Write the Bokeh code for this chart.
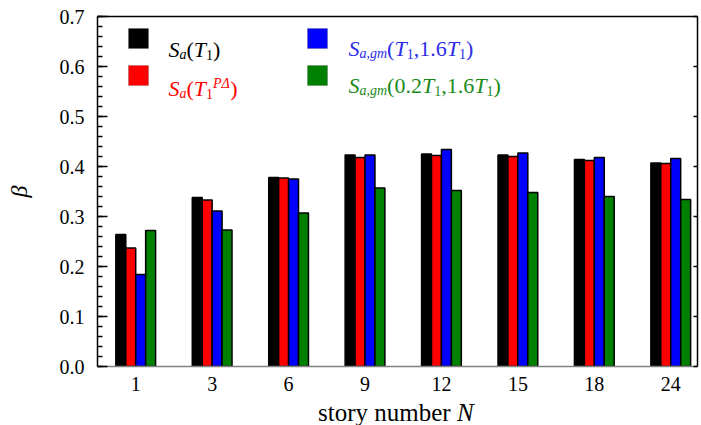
import numpy as np
from bokeh.plotting import figure
from bokeh.layouts import column
from bokeh.models import (Range1d, FixedTicker, LinearAxis, PrintfTickFormatter,
                          CustomJSTickFormatter, Label, BoxAnnotation, Div)
from bokeh.embed import file_html
from bokeh.resources import INLINE

# ---------------- data ----------------
stories = ["1", "3", "6", "9", "12", "15", "18", "24"]
sa_t1 = [0.264, 0.338, 0.378, 0.423, 0.425, 0.423, 0.414, 0.407]
sa_t1_pd = [0.237, 0.333, 0.377, 0.418, 0.422, 0.420, 0.412, 0.406]
sagm_t1_16 = [0.184, 0.311, 0.375, 0.423, 0.434, 0.427, 0.418, 0.416]
sagm_02_16 = [0.272, 0.273, 0.307, 0.357, 0.352, 0.348, 0.340, 0.334]
y_major = [0.0, 0.1, 0.2, 0.3, 0.4, 0.5, 0.6, 0.7]
y_minor = [round(0.02 * k, 2) for k in range(36)]

FONT = "Liberation Serif"
BLACK, RED, BLUE, GREEN = "#000000", "#FF0000", "#0000FF", "#008000"
TXT_BLUE = "#2B2BE8"
TXT_GREEN = "#1A8A1A"

W = 700
LB, FW, TB, FH = 97, 600, 16, 350
H1 = 400
p = figure(width=W, height=H1, x_range=Range1d(0.5, 8.35), y_range=Range1d(0, 0.7),
           output_backend="svg", toolbar_location=None,
           min_border_left=LB, min_border_right=W - LB - FW, min_border_top=TB,
           min_border_bottom=H1 - TB - FH)
p.grid.visible = False
p.outline_line_color = None
p.background_fill_color = None
p.border_fill_color = "white"

# ---------------- bars ----------------
xs = np.arange(1, len(stories) + 1)
bw = 0.13
series = [(sa_t1, BLACK, -0.195), (sa_t1_pd, RED, -0.065),
          (sagm_t1_16, BLUE, 0.065), (sagm_02_16, GREEN, 0.195)]
for vals, col, off in series:
    p.vbar(x=xs + off, top=vals, width=bw, bottom=0, fill_color=col,
           line_color="black", line_width=1.5)

# ---------------- axes ----------------
yax = p.yaxis[0]
yax.ticker = FixedTicker(ticks=y_major, minor_ticks=y_minor)
yax.formatter = PrintfTickFormatter(format="%.1f")
yax.major_tick_in = 10
yax.major_tick_out = 0
yax.minor_tick_in = 5
yax.minor_tick_out = 0
yax.axis_line_width = 1.5
yax.major_tick_line_width = 1.5
yax.minor_tick_line_width = 1.5
yax.major_label_text_font = FONT
yax.major_label_text_font_size = "20px"
yax.major_label_text_color = "black"
yax.major_label_standoff = 13
yax.axis_label = "β"
yax.axis_label_text_font = FONT
yax.axis_label_text_font_style = "italic"
yax.axis_label_text_font_size = "24px"
yax.axis_label_text_color = "black"
yax.axis_label_standoff = 25

xax = p.xaxis[0]
xax.ticker = FixedTicker(ticks=list(xs))
xax.major_label_overrides = {int(i): s for i, s in zip(xs, stories)}
xax.axis_line_color = "#808080"
xax.axis_line_width = 1.5
xax.major_tick_line_color = None
xax.minor_tick_line_color = None
xax.major_tick_in = 0
xax.major_tick_out = 0
xax.major_label_text_font = FONT
xax.major_label_text_font_size = "20px"
xax.major_label_text_color = "black"
xax.major_label_standoff = 10

rax = LinearAxis(ticker=FixedTicker(ticks=y_major),
                 formatter=CustomJSTickFormatter(code="return ''"))
rax.major_tick_in = 4
rax.major_tick_out = 0
rax.minor_tick_line_color = None
rax.axis_line_width = 1.5
rax.major_tick_line_width = 1.5
rax.major_label_standoff = 0
p.add_layout(rax, "right")

tax = LinearAxis(ticker=FixedTicker(ticks=[]),
                 formatter=CustomJSTickFormatter(code="return ''"))
tax.major_tick_line_color = None
tax.minor_tick_line_color = None
tax.axis_line_width = 1.5
tax.major_label_standoff = 0
p.add_layout(tax, "above")

# ---------------- rich text helper ----------------
REG = {"(": 333, ")": 333, ",": 250, ".": 250, " ": 250}
for d in "0123456789":
    REG[d] = 500
ITAL = {"S": 500, "a": 500, "T": 556, "g": 500, "m": 722, ",": 250, "P": 611,
        "Δ": 612}


def width(s, italic, size):
    tab = ITAL if italic else REG
    return sum(tab.get(c, 500) for c in s) / 1000.0 * size


def rich(fig, x0, y0, runs, color):
    x = x0
    for txt, italic, size, dy in runs:
        fig.add_layout(Label(x=x, y=y0 + dy, x_units="screen", y_units="screen",
                             text=txt, text_font=FONT, text_font_size=f"{size}px",
                             text_font_style="italic" if italic else "normal",
                             text_color=color, text_baseline="alphabetic",
                             text_align="left"))
        x += width(txt, italic, size)


M, S = 22, 14
SUB, SUP = -5, 5
I, R = True, False
leg1 = [("S", I, M, 0), ("a", I, S, SUB), ("(", R, M, 0), ("T", I, M, 0),
        ("1", R, S, SUB), (")", R, M, 0)]
leg2 = [("S", I, M, 0), ("a", I, S, SUB), ("(", R, M, 0), ("T", I, M, 0),
        ("1", R, S, SUB), ("PΔ", I, S, SUP), (")", R, M, 0)]
leg3 = [("S", I, M, 0), ("a,gm", I, S, SUB), ("(", R, M, 0), ("T", I, M, 0),
        ("1", R, S, SUB), (",", R, M, 0), ("1.6", R, M, 0), ("T", I, M, 0),
        ("1", R, S, SUB), (")", R, M, 0)]
leg4 = [("S", I, M, 0), ("a,gm", I, S, SUB), ("(", R, M, 0), ("0.2", R, M, 0),
        ("T", I, M, 0), ("1", R, S, SUB), (",", R, M, 0), ("1.6", R, M, 0),
        ("T", I, M, 0), ("1", R, S, SUB), (")", R, M, 0)]

# legend swatches (screen units, relative to frame, y from bottom)
for (lx, ty, col) in [(31, 12, BLACK), (31, 49, RED), (210, 12, BLUE), (210, 49, GREEN)]:
    p.add_layout(BoxAnnotation(left=lx, right=lx + 20, top=FH - ty, bottom=FH - ty - 20,
                               left_units="screen", right_units="screen",
                               top_units="screen", bottom_units="screen",
                               fill_color=col, fill_alpha=1.0,
                               line_color="#555555", line_width=1))

rich(p, 71, FH - 33, leg1, BLACK)
rich(p, 71, FH - 72, leg2, RED)
rich(p, 251, FH - 32, leg3, TXT_BLUE)
rich(p, 251, FH - 69, leg4, TXT_GREEN)

# ---------------- x axis title ----------------
xtitle = Div(text="story number <i>N</i>", width=W, height=25, margin=0,
             styles={"font-family": FONT, "font-size": "25px", "line-height": "25px",
                     "color": "black", "text-align": "left", "text-indent": "318px",
                     "white-space": "nowrap", "overflow": "hidden"})

layout = column(p, xtitle, spacing=0)
open("out.html", "w").write(file_html(layout, INLINE))
